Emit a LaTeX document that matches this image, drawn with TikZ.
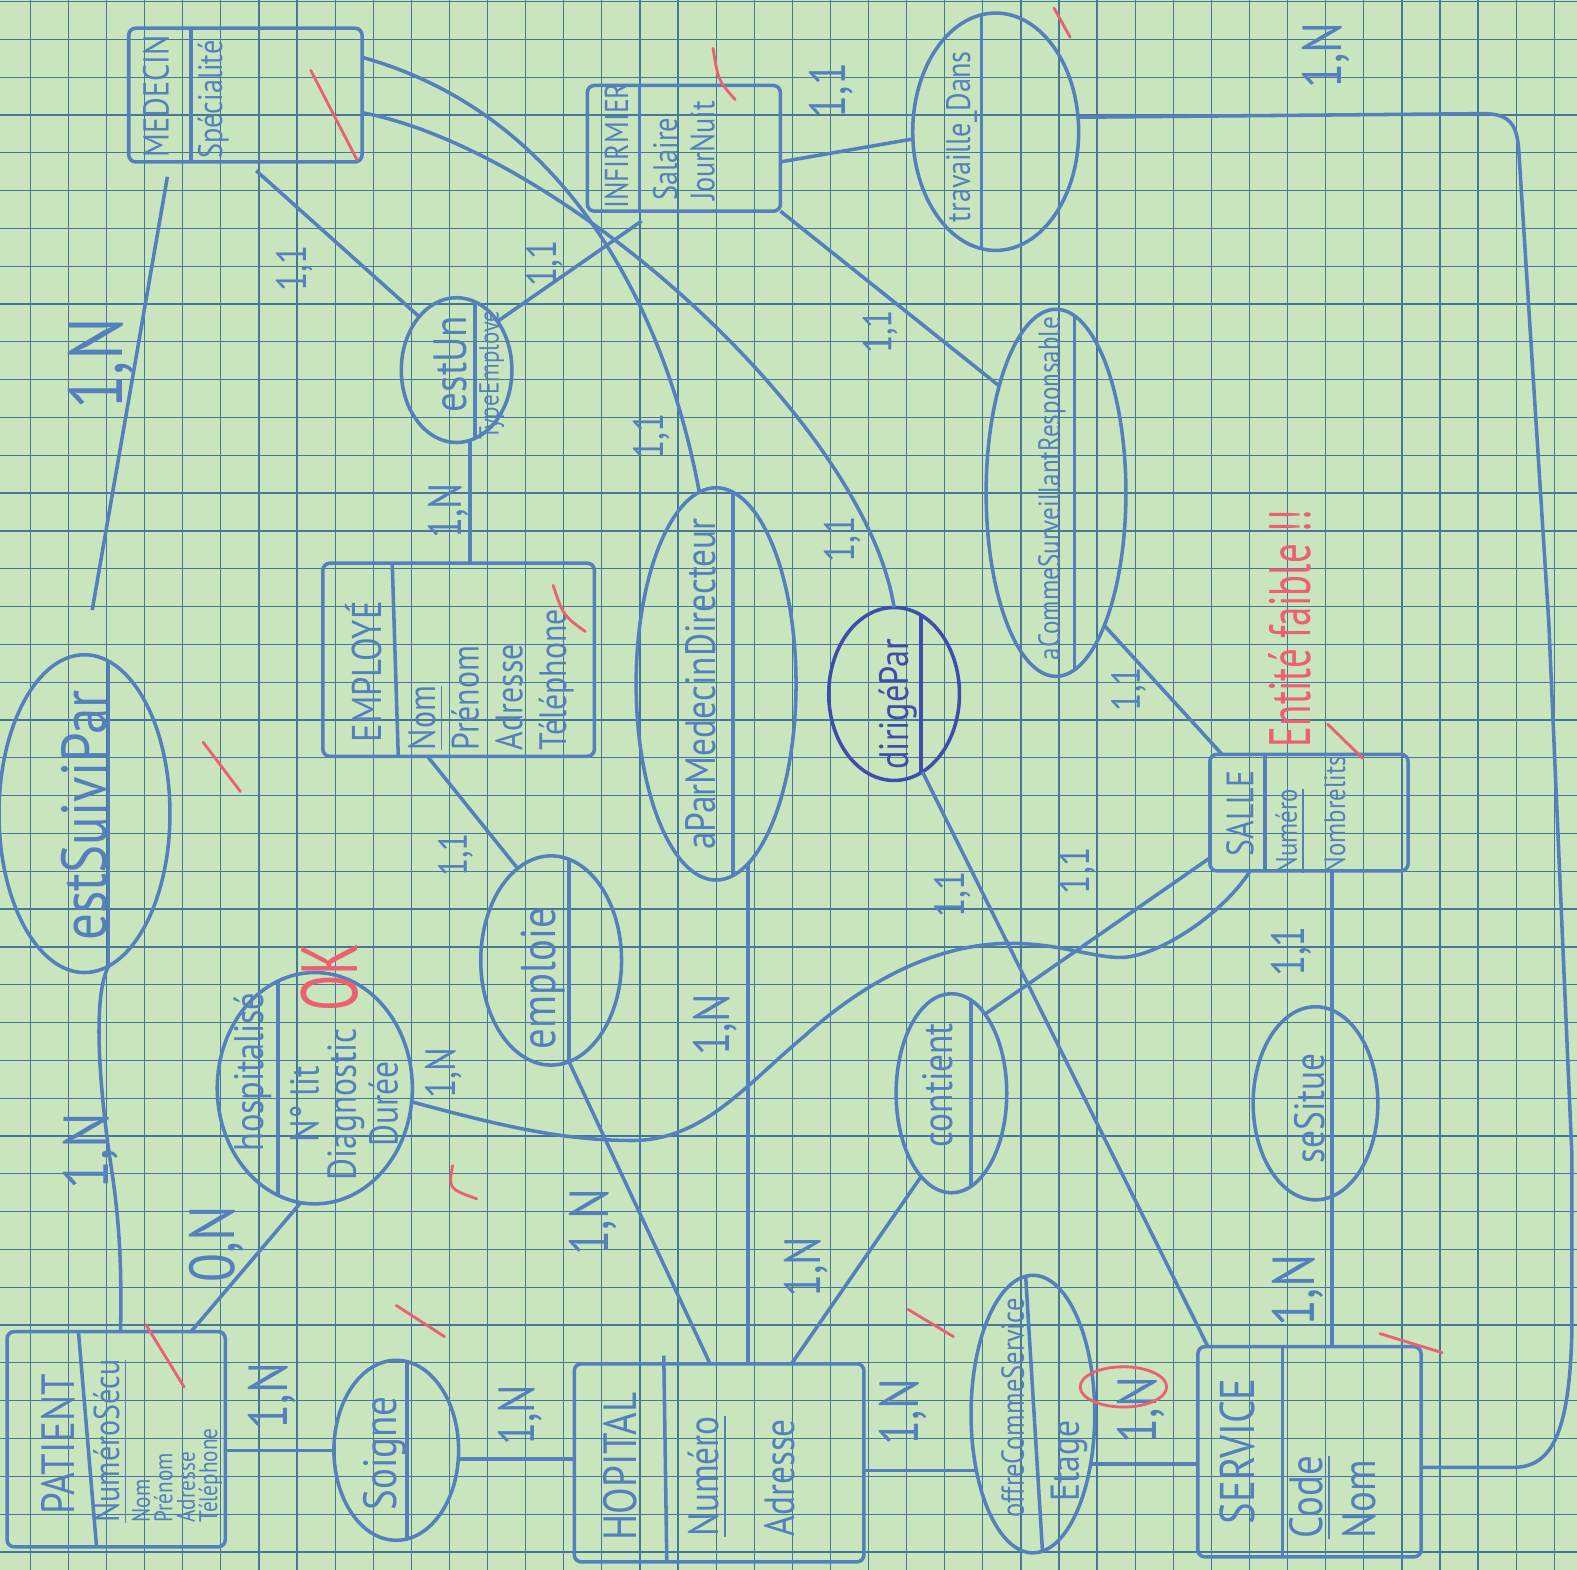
\documentclass[tikz,border=0pt]{standalone}
\usepackage{fontspec}
\setsansfont{PT Sans}
\usetikzlibrary{shapes.geometric,calc}
\definecolor{paper}{RGB}{200,229,190}
\definecolor{gridblue}{RGB}{72,120,152}
\definecolor{ink}{RGB}{84,128,188}
\definecolor{inkdark}{RGB}{62,78,172}
\definecolor{redpen}{RGB}{236,96,112}
\tikzset{
  entity/.style={draw=ink, line width=1pt, rounded corners=2pt, inner sep=0pt, outer sep=0pt},
  assoc/.style={draw=ink, line width=1pt, ellipse, inner sep=0pt, outer sep=0pt},
  hand/.style={rotate=90, yscale=1.2, text=ink, inner sep=1pt},
  etitle/.style={hand, font=\sffamily\fontsize{#1}{#1}\selectfont},
  etitle/.default=10,
  aname/.style={hand, font=\sffamily\fontsize{#1}{#1}\selectfont},
  aname/.default=10,
  attr/.style 2 args={hand, align=left, font=\sffamily\fontsize{#1}{#2}\selectfont},
  card/.style={hand, font=\sffamily\fontsize{#1}{#1}\selectfont},
  card/.default=12,
  split/.style={draw=ink, line width=1pt},
  link/.style={draw=ink, line width=1pt},
  redtick/.style={draw=redpen, line width=0.8pt, line cap=round},
  redtext/.style={rotate=90, yscale=1.5, text=redpen, font=\sffamily\fontsize{#1}{#1}\selectfont},
  gridline/.style={draw=gridblue, line width=0.35pt}
}

\begin{document}
\begin{tikzpicture}[x=0.1mm, y=-0.1mm]
  \useasboundingbox (0,0) rectangle (1568,1561);
  \fill[paper] (0,0) rectangle (1568,1561);
  \foreach \k in {0,...,40} \draw[gridline] ({30.2+37.88*\k},0) -- ++(0,1561);
  \foreach \k in {0,...,41} \draw[gridline] (0,{1.5+37.6*\k}) -- ++(1568,0);

  \node[entity, minimum width=23.2mm, minimum height=13.3mm] (medecin) at (244,94.5) {};
  \node[etitle=8.5] (medecinT) at (155,96) {MEDECIN};
  \node[attr={8}{8}] (medecinA) at (212,99) {Spécialité};
  \draw[split] (190,0 |- medecin.north) -- (190,0 |- medecin.south);

  \node[entity, minimum width=19.2mm, minimum height=12.5mm] (infirmier) at (680,147.5) {};
  \node[etitle=7.8] (infirmierT) at (613,145) {INFIRMIER};
  \node[attr={8}{8.8}] (infirmierA) at (680,150) {Salaire\\JourNuit};
  \draw[split] (636,0 |- infirmier.north) -- (636,0 |- infirmier.south);

  \node[entity, minimum width=27mm, minimum height=19.2mm] (employe) at (456,656) {};
  \node[etitle=9.8] (employeT) at (362,668) {EMPLOYÉ};
  \node[attr={9}{10.3}, anchor=west] (employeA) at (488,750) {\underline{Nom}\\Prénom\\Adresse\\Téléphone};
  \draw[split] (390,0 |- employe.north) -- (396,0 |- employe.south);

  \node[entity, minimum width=19.7mm, minimum height=11.6mm] (salle) at (1301.5,808) {};
  \node[etitle=9] (salleT) at (1233,809) {SALLE};
  \node[attr={7}{11.4}] (salleA) at (1303,810) {\underline{Numéro}\\Nombrelits};
  \draw[split] (1258,0 |- salle.north) -- (1258,0 |- salle.south);

  \node[entity, minimum width=28.8mm, minimum height=19.7mm] (hopital) at (715,1454.5) {};
  \node[etitle=11] (hopitalT) at (617,1458) {HOPITAL};
  \node[attr={10}{17.8}, anchor=west] (hopitalA) at (737,1532) {\underline{Numéro}\\Adresse};
  \draw[split] ($(660,0 |- hopital.north)+(0,-8)$) -- (663,0 |- hopital.south);

  \node[entity, minimum width=22.2mm, minimum height=20.9mm] (service) at (1302,1443.5) {};
  \node[etitle=11.5] (serviceT) at (1230,1443) {SERVICE};
  \node[attr={11}{12.5}, anchor=west] (serviceA) at (1325,1534) {\underline{Code}\\Nom};
  \draw[split] (1275,0 |- service.north) -- (1275,0 |- service.south);

  \node[entity, minimum width=21.7mm, minimum height=21.4mm] (patient) at (115.5,1431) {};
  \node[etitle=11] (patientT) at (58,1436) {PATIENT};
  \node[attr={8.5}{8.5}] (patientA) at (110,1433) {\underline{NuméroSécu}};
  \node[attr={6}{5.3}, anchor=west] (patientB) at (176,1518) {Nom\\Prénom\\Adresse\\Téléphone};
  \draw[split] (78,0 |- patient.north) -- (96,0 |- patient.south);

  \node[assoc, minimum width=17mm, minimum height=31.6mm] (estsuivi) at (84,809) {};
  \node[aname=15] (estsuiviT) at (84,811) {estSuiviPar};
  \draw[split] (estsuivi.81) -- (estsuivi.-81);

  \node[assoc, minimum width=19.4mm, minimum height=23mm] (hospit) at (313,1082) {};
  \node[aname=9.7] (hospitT) at (251,1066) {hospitalisé};
  \node[attr={9.5}{8.8}, align=center] (hospitA) at (342,1098) {N° lit\\Diagnostic\\Durée};
  \draw[split] (hospit.109) -- (hospit.251);

  \node[assoc, minimum width=12.4mm, minimum height=17.9mm] (soigne) at (394,1442) {};
  \node[aname=11] (soigneT) at (383,1445) {Soigne};
  \draw[split] (soigne.83) -- (soigne.-83);

  \node[assoc, minimum width=14mm, minimum height=20.8mm] (emploie) at (548,955) {};
  \node[aname=11.5] (emploieT) at (540,973) {emploie};
  \draw[split] (emploie.80) -- (emploie.-80);

  \node[assoc, minimum width=11mm, minimum height=14.4mm] (estun) at (454,368) {};
  \node[aname=11] (estunT) at (448,362) {estUn};
  \node[aname=6.5] (estunA) at (489,373) {TypeEmploye};
  \draw[split] (estun.75) -- (estun.-75);

  \node[assoc, minimum width=15.9mm, minimum height=39mm] (aparmed) at (712,680) {};
  \node[aname=10] (aparmedT) at (697,680) {aParMedecinDirecteur};
  \draw[split] (aparmed.85) -- (aparmed.-85);

  \node[assoc, draw=inkdark, minimum width=13mm, minimum height=17.2mm] (dirigepar) at (889,690) {};
  \node[aname=9.7, text=inkdark] (dirigeparT) at (893,700) {dirigéPar};
  \draw[split, draw=inkdark] (dirigepar.71) -- (dirigepar.-71);

  \node[assoc, minimum width=13.9mm, minimum height=36.5mm] (acsr) at (1050,490) {};
  \node[aname=7.1] (acsrT) at (1046,486) {aCommeSurveillantResponsable};
  \draw[split] (acsr.84) -- (acsr.-84);

  \node[assoc, minimum width=16.5mm, minimum height=23.6mm] (travdans) at (990,131) {};
  \node[aname=8] (travdansT) at (956,136) {travaille\_Dans};
  \draw[split] (travdans.97) -- (travdans.263);

  \node[assoc, minimum width=11mm, minimum height=19.8mm] (contient) at (946,1087) {};
  \node[aname=10] (contientT) at (932,1079) {contient};
  \draw[split] (contient.78) -- (contient.-78);

  \node[assoc, minimum width=12.4mm, minimum height=19.2mm] (sesitue) at (1308,1097) {};
  \node[aname=10] (sesitueT) at (1302,1102) {seSitue};
  \draw[split] (sesitue.80) -- (sesitue.-80);

  \node[assoc, minimum width=12.3mm, minimum height=27.6mm] (offre) at (1027,1406) {};
  \node[aname=7.5] (offreT) at (1007,1400) {offreCommeService};
  \node[aname=9.5] (offreA) at (1063,1453) {Etage};
  \draw[split] (offre.93) -- (offre.-86);

  \draw[link, shorten <=1.5mm, shorten >=4.5mm] (169,0 |- medecin.south) -- (estsuivi.north);
  \draw[link, shorten <=1.3mm] (245,0 |- medecin.south) -- (estun.125);
  \draw[link] (medecin.east |- 0,57) .. controls (559,112) and (660,300) .. (aparmed.95);
  \draw[link] (medecin.east |- 0,112) .. controls (560,150) and (860,420) .. (dirigepar.north);
  \draw[link, shorten <=1.7mm] (652,0 |- infirmier.south) -- (estun.50);
  \draw[link] (infirmier.east |- 0,161) -- (travdans.185);
  \draw[link] (infirmier.south east) -- (acsr.118);
  \draw[link] (travdans.10) -- (1475,113) .. controls (1502,113) and (1508,125) .. (1510,148)
    -- (1540,620) -- (1563,1150) -- (1563,1320) .. controls (1561,1420) and (1545,1459) .. (1505,1459)
    -- (service.east |- 0,1459);
  \draw[link] (estun.-79) -- (estun.-79 |- employe.north);
  \draw[link] (425,0 |- employe.south) -- (emploie.110);
  \draw[link] (emploie.-80) -- (706,0 |- hopital.north);
  \draw[link] (aparmed.-80) -- (aparmed.-80 |- hopital.north);
  \draw[link] (contient.250) -- (787,0 |- hopital.north);
  \draw[link] (dirigepar.-70) -- ($(service.north west)+(10,0)$);
  \draw[link] (acsr.-70) -- ($(salle.north west)+(12,0)$);
  \draw[link] (contient.67) -- (salle.west |- 0,853);
  \draw[link] (sesitue.80 |- salle.south) -- (sesitue.80);
  \draw[link] (sesitue.-80) -- (sesitue.-80 |- service.north);
  \draw[link] (hospit.-8) .. controls (500,1120) and (560,1134) .. (630,1134)
    .. controls (700,1133) and (740,1080) .. (800,1030)
    .. controls (850,985) and (920,940) .. (1000,938)
    .. controls (1050,937) and (1085,952) .. (1114,952)
    .. controls (1150,952) and (1215,910) .. (1243,0 |- salle.south);
  \draw[link] (estsuivi.-81) .. controls (92,990) and (98,1080) .. (112,1170)
    .. controls (122,1240) and (120,1290) .. (120,0 |- patient.north);
  \draw[link] (190,0 |- patient.north) -- (hospit.-97);
  \draw[link] (patient.east |- soigne.west) -- (soigne.west);
  \draw[link] (soigne.-8) -- (soigne.-8 -| hopital.west);
  \draw[link] (offre.225 -| hopital.east) -- (offre.225);
  \draw[link] (offre.-41) -- (offre.-41 -| service.west);

  \node[card=18] (cmedsuivi) at (100,362) {1,N};
  \node[card=10] (cmedestun) at (293,267) {1,1};
  \node[card=10] (cinfestun) at (541,262) {1,1};
  \node[card=11] (cempestun) at (446,508) {1,N};
  \node[card=10] (cmedapar) at (648,434) {1,1};
  \node[card=10] (cmeddirige) at (838,536) {1,1};
  \node[card=9.5] (cinfacsr) at (875,330) {1,1};
  \node[card=12] (cinftrav) at (826,90) {1,1};
  \node[card=13] (csertrav) at (1318,55) {1,N};
  \node[card=9.5] (csalacsr) at (1122,685) {1,1};
  \node[card=9.5] (cempemploie) at (453,850) {1,1};
  \node[card=15] (cpatsuivi) at (90,1145) {1,N};
  \node[card=10] (csalhospit) at (441,1067) {1,N};
  \node[card=15] (cpathospit) at (215,1237) {0,N};
  \node[card=13] (cpatsoigne) at (270,1388) {1,N};
  \node[card=12] (chopsoigne) at (517,1407) {1,N};
  \node[card=13] (chopemploie) at (590,1215) {1,N};
  \node[card=12] (chopapar) at (711,1019) {1,N};
  \node[card=12] (chopcontient) at (802,1260) {1,N};
  \node[card=13] (chopoffre) at (898,1404) {1,N};
  \node[card=13] (cseroffre) at (1134,1402) {1,N};
  \node[card=14] (csersitue) at (1290,1283) {1,N};
  \node[card=11] (csalsitue) at (1284,946) {1,1};
  \node[card=10] (csalcontient) at (1071,866) {1,1};
  \node[card=10] (cserdirige) at (947,889) {1,1};

  \draw[redtick] (309,70) -- (355,159);
  \draw[redtick] (709,48) .. controls (714,80) .. (731,99);
  \draw[redtick] (1048,8) -- (1064,37);
  \draw[redtick] (550,582) .. controls (560,612) .. (582,628);
  \draw[redtick] (202,738) -- (239,787);
  \draw[redtick] (450,1159) .. controls (446,1182) .. (474,1192);
  \draw[redtick] (394,1298) -- (442,1329);
  \draw[redtick] (145,1317) -- (183,1379);
  \draw[redtick] (903,1302) -- (948,1329);
  \draw[redtick] (1372,1326) -- (1434,1345);
  \draw[redtick] (1320,720) -- (1355,754);
  \draw[redtick] (1117,1379) ellipse [x radius=4.3mm, y radius=2mm];
  \node[redtext=15] (okmark) at (328,972) {OK};
  \node[redtext=11] (faible) at (1282,625) {Entité faible !!};
\end{tikzpicture}
\end{document}
